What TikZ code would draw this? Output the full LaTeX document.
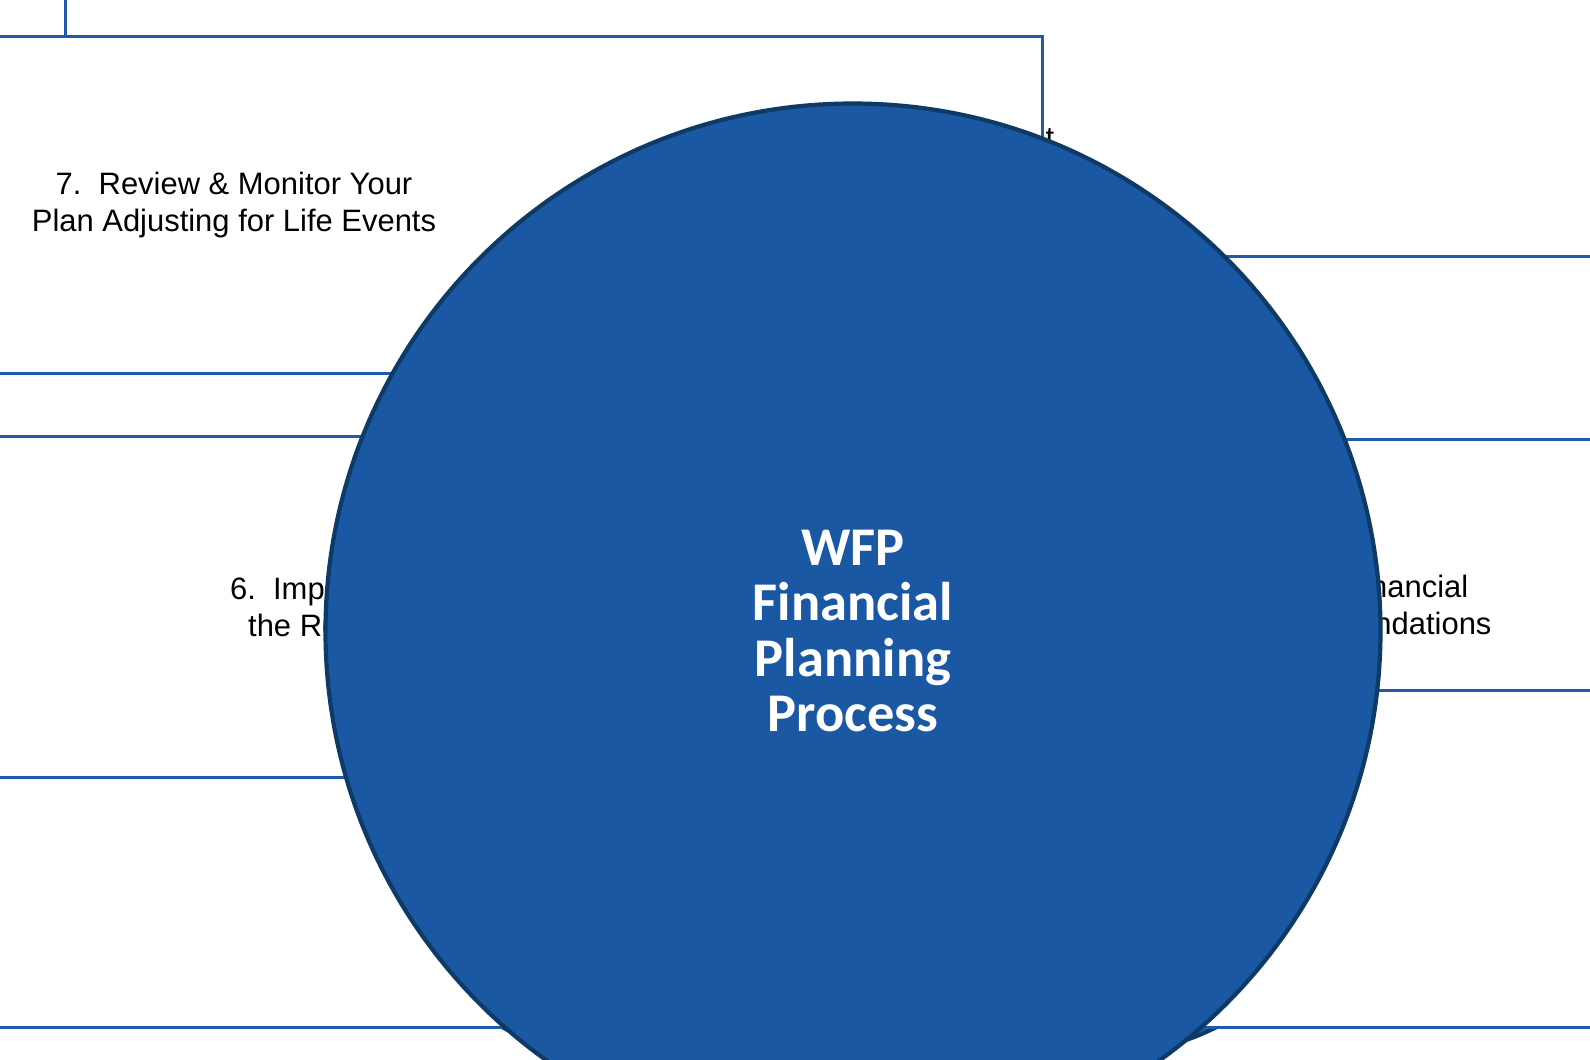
\documentclass[tikz,border=0pt]{standalone}
\usepackage{fontspec}
\setmainfont{Liberation Sans}
\newfontfamily\wfpfont{Carlito}
\definecolor{boxblue}{HTML}{1F5BAA}
\definecolor{arrowblue}{HTML}{1B58A4}
\definecolor{arrowline}{HTML}{0E3A66}
\begin{document}
\begin{tikzpicture}[x=0.01cm,y=-0.01cm,
    stage/.style = {rectangle,draw=boxblue,line width=0.9pt,fill=white,align=center,
                   font=\fontsize{8.8}{10.6}\selectfont,inner sep=0pt},
    curl/.style = {fill=arrowblue,draw=arrowline,line width=1.1pt,line join=miter}]
\useasboundingbox (0,0) rectangle (1590,1059);
% curved arrows
\draw[curl] (397,558) -- plot[smooth] coordinates {(397,558) (370,450) (427,300) (503,257) (627,218) (760,270) (783,290)}
    -- (807,276) -- (791,346) -- (711,327) -- (737,315)
    -- plot[smooth] coordinates {(737,315) (660,267) (577,245) (503,257) (437,333) (420,433) (445,533)} -- cycle;
\draw[curl] (920,332) -- plot[smooth] coordinates {(920,332) (990,257) (1107,222) (1223,250) (1307,310) (1357,417) (1352,517)}
    -- (1370,530) -- (1308,553) -- (1282,477) -- (1305,490)
    -- plot[smooth] coordinates {(1305,490) (1300,400) (1250,283) (1157,250) (1057,267) (968,358)} -- cycle;
\draw[curl] (1340,682) -- plot[smooth] coordinates {(1340,682) (1377,777) (1370,893) (1273,993) (1157,1047) (1007,1020) (988,993)}
    -- (967,1010) -- (973,937) -- (1055,947) -- (1033,963)
    -- plot[smooth] coordinates {(1033,963) (1107,1007) (1190,1013) (1273,993) (1330,827) (1295,712)} -- cycle;
\draw[curl] (773,978) -- plot[smooth] coordinates {(773,978) (673,1050) (557,1050) (450,987) (360,820) (382,720)}
    -- (362,702) -- (433,691) -- (445,772) -- (423,752)
    -- plot[smooth] coordinates {(423,752) (400,837) (453,987) (573,1020) (733,945)} -- cycle;
% stages
\node[stage,minimum width=452,minimum height=94] (stage1) at (863,50) {1. Understand Your Personal\\\& Financial Situation};
\node[stage,minimum width=453,minimum height=93] (stage2) at (862,156) {2.\ \ Identify What’s Important\\to You \& Select Your Goals};
\node[stage,minimum width=690,minimum height=94] (stage3) at (855,422) {3.\ \ Collect Information \& Analyze your Current\\Course of Action for Possible Alternatives};
\node[stage,minimum width=464,minimum height=96] (stage4) at (1298,608) {4.\ \ Develop the Financial\\Planning Recommendations};
\node[stage,minimum width=491,minimum height=96] (stage5) at (853,859) {5.\ \ Illustrate \& Present Financial\\Planning Recommendations};
\node[stage,minimum width=403,minimum height=97] (stage6) at (403,607) {6.\ \ Implement \& Prioritize\\the Recommendations};
\node[stage,minimum width=460,minimum height=96] (stage7) at (234,205) {7.\ \ Review \& Monitor Your\\Plan Adjusting for Life Events};
% centre
\node[circle,fill=arrowblue,draw=arrowline,line width=1.2pt,minimum size=300,inner sep=0pt,
      align=center,text=white,font=\wfpfont\bfseries\fontsize{15.5}{15.8}\selectfont] (wfp) at (853,631)
      {WFP\\Financial\\Planning\\Process};
\end{tikzpicture}
\end{document}
